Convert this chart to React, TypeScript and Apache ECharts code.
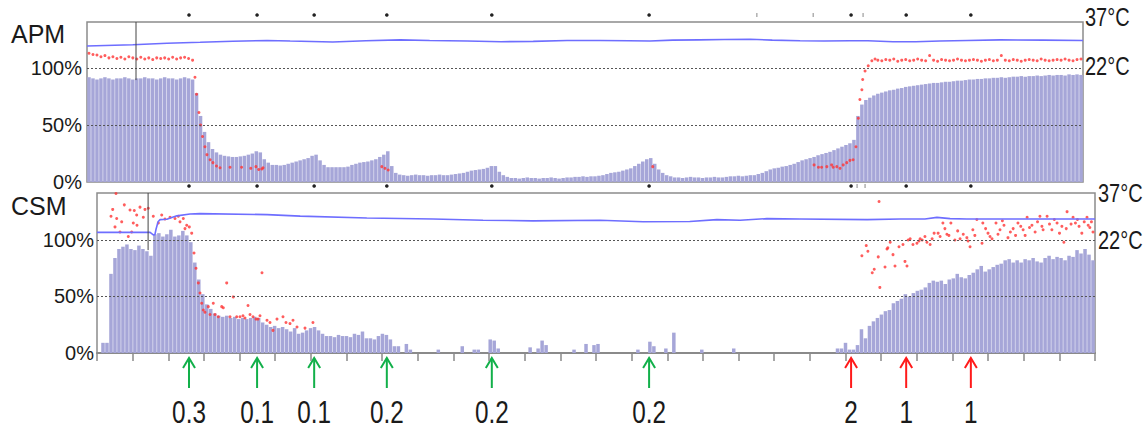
import React, { useEffect, useRef } from "react";
import * as echarts from "echarts";

// ---------- DATA ----------
const N_SAMPLES = 250;
const APM_MAX = 140.5; // % at top of APM plot
const CSM_MAX = 141.5; // % at top of CSM plot
const TEMP_LOW = 22;
const TEMP_HIGH = 37;

// APM: bar heights (% of max) per sample
const apmBars = [
  92, 91, 90, 91, 92, 91, 90, 91, 91, 92, 91, 90, 91, 91, 92, 91, 91, 90, 91, 92, 91, 91, 90, 91, 92, 91, 90,
  78, 58, 44, 35, 29, 26, 24, 23, 22.5, 22, 22, 22.5, 23, 24, 25, 27, 26, 20, 17, 15, 15, 14.5, 15,
  16, 17, 18, 19, 20, 21, 23, 24, 19, 15, 13, 13, 13, 13, 13, 13.5, 15, 16, 17, 17.5, 18, 19, 20, 22, 24, 27, 14, 8, 6.5,
  6, 5.5, 6, 6.5, 6, 6, 5.5, 6, 6, 6.5, 6,
  6, 6.5, 7, 7.5, 8,
  9, 10, 10.5, 11, 11.5, 12.5, 14, 14, 9, 6,
  4.5,
  3.5, 3.5, 3, 3.5, 4, 3.5, 3.5, 3, 3.5, 3.5, 4, 3.5, 3, 3.5, 4, 4,
  4.5, 4.5, 5, 4.5, 5, 5, 5.5,
  6, 7, 8, 8.5, 9, 10, 11, 12, 14, 16, 18, 20, 21, 16, 11, 8, 6, 5,
  4, 4, 3.5, 4, 4.5, 4, 4, 3.5, 4, 4, 4.5, 4, 4, 4.5,
  5, 5, 5.5, 5, 5.5, 6, 6,
  7, 8, 9.5, 11, 12, 12.5, 13.5, 14, 15, 16, 17.5, 19, 20, 21, 22, 23.5, 24.5, 25.5, 26.5, 28, 29.5, 31, 32.5, 34, 37,
  58, 68, 72, 74, 76, 77.5, 78.5, 79.5, 80.5, 81, 82, 82.5, 83.5, 84, 84.5, 85, 85.5, 86, 86.5, 87,
  87, 87.5, 88, 88, 88.5, 89, 89, 89.5, 90, 90, 90.5, 90.5, 91, 91, 91.5, 91.5, 92, 91.5, 92, 92.5,
  92.5, 93, 92.5, 93, 93, 93.5, 93, 93.5, 94, 93.5, 94, 94, 93.5, 94.5, 94, 94.5, 94,
];

// CSM: bar heights per sample
const csmBars = [
  0, 9, 9, 70, 84, 92, 94, 96, 92, 91, 95, 92, 90, 86, 105, 106, 103, 105, 109, 103, 104, 108, 104, 98,
  80, 65, 52, 43, 39, 35, 33, 32, 33, 31, 32, 30, 31, 30, 31, 32, 31, 27, 25, 23, 24, 22, 23, 21, 19, 22, 17,
  18, 20, 22, 23, 20, 17, 15, 15, 14, 16, 15, 15, 14, 17, 16, 19, 13, 13, 12, 15, 17, 16, 12, 6, 6, 0, 8, 3,
  0, 0, 0, 0, 0, 0, 3, 0, 0, 0, 0, 0, 6, 0, 0, 3, 3, 0, 0, 12, 11,
  4, 0, 0, 0, 0, 0, 0, 0, 5, 0, 4, 11, 7, 0, 0, 0, 0, 0, 0, 3,
  0, 0, 8, 0, 7, 8, 0, 0, 0, 0, 0, 0, 0, 0, 0, 3, 0, 0, 10, 6,
  0, 0, 4, 0, 18, 0, 0, 0, 0, 0, 0, 3, 0, 0, 0, 0, 0, 0, 0, 4,
  0, 0, 0, 0, 0, 0, 0, 0, 0, 0, 0, 0, 0, 0, 0, 0, 0, 0, 0, 0, 0, 0, 0, 0,
  0, 4, 4, 9, 3, 3, 7, 21, 13, 24, 28, 31, 34, 37, 38, 44, 46, 48, 52, 50,
  53, 55, 56, 58, 62, 64, 63, 64, 61, 65, 66, 70, 67, 66, 69, 71, 74, 77, 72, 74,
  76, 78, 79, 82, 83, 80, 82, 80, 83, 82, 84, 81, 80, 84, 86, 83, 85, 84, 82, 86,
  85, 91, 88, 92, 87, 82,
];

// APM red ratio points: regular run at the start, scattered middle, regular run at the end
const apmRatioHead = [
  113, 112, 111.5, 110, 111, 109, 110, 108.5, 109.5, 108, 110, 109, 108, 109.5, 108, 109, 107.5, 109, 108.5,
  109, 108, 109.5, 108, 109, 109.5, 108.5, 107,
];
const apmRatioMid: [number, number][] = [
  [27.1, 92], [27.5, 77], [28.1, 61], [28.5, 50], [29.0, 40], [29.6, 31], [30.1, 24], [30.9, 19.5],
  [31.6, 17], [32.5, 14], [33.4, 12.5], [35.9, 13], [38.8, 13], [41.1, 12], [42.4, 13.5], [43.1, 11],
  [43.9, 11.5], [44.2, 12.5], [74.0, 13.5], [74.8, 12], [75.6, 10.5], [142.0, 13.5],
  [182.5, 15], [183.6, 13], [184.4, 13], [185.7, 13.5], [186.9, 15], [187.3, 13], [188.2, 13.5],
  [189.0, 12], [189.8, 15], [190.7, 17], [191.5, 19], [192.3, 19.5], [193.0, 31], [193.6, 56],
  [194.0, 72.5], [194.5, 81], [194.7, 90], [195.3, 97.5], [196.1, 102], [197.0, 106.5], [197.8, 108],
];
const APM_TAIL_START = 198;
const apmRatioTail = [
  107, 106.5, 107.5, 107, 108, 106, 107, 107.5, 106.5, 107,
  108, 107, 106.5, 111, 107, 106, 107.5, 107, 106.5, 107,
  108, 107, 106.5, 107, 107.5, 107, 106, 107, 107.5, 106.5,
  107, 111, 107, 106.5, 107.5, 107, 106, 107, 107.5, 107,
  106.5, 108, 107, 106.5, 107, 107.5, 107, 108, 107, 106.5,
  107.5, 108,
];

// CSM red ratio points [sample position, %]
const csmRatio: [number, number][] = [
  [3.51, 121], [3.93, 127], [4.51, 111.5], [4.76, 141], [4.93, 119], [5.76, 107], [6.19, 116], [6.84, 131],
  [7.84, 103], [8.27, 126.5], [8.69, 107], [9.09, 115], [9.34, 126], [9.94, 122], [10.02, 113], [10.77, 129],
  [11.6, 120], [12.02, 127], [12.85, 128], [14.1, 121], [15.36, 115], [16.21, 122], [17.03, 118.5], [18.29, 120],
  [19.54, 119], [20.37, 121], [20.79, 116], [21.62, 119], [22.04, 110], [22.47, 113], [23.12, 111.5], [23.72, 106],
  [24.3, 88.5], [24.8, 75], [25.38, 62], [25.8, 53], [26.23, 44], [26.63, 38], [27.05, 36], [27.88, 41],
  [28.31, 34], [29.13, 44], [29.56, 34], [30.39, 32], [31.24, 41], [31.64, 40], [32.49, 62], [33.32, 32],
  [34.14, 49.6], [35.0, 32], [35.82, 32], [36.57, 33], [37.07, 31], [37.83, 42], [38.33, 34], [39.08, 32],
  [39.83, 30], [40.33, 30], [40.83, 33], [41.33, 71], [42.59, 29], [43.34, 27], [44.09, 20], [45.09, 30],
  [46.59, 32], [47.34, 27], [48.35, 26], [49.1, 29], [50.1, 23], [52.1, 22], [54.1, 27],
  [191.6, 86], [192.7, 95], [193.1, 90], [194.2, 71], [194.7, 74], [195.7, 85], [195.9, 134], [196.1, 58],
  [197.4, 76], [197.9, 92], [198.1, 93], [198.7, 98], [199.4, 87], [199.9, 77], [200.9, 94], [201.9, 96],
  [202.4, 81], [202.9, 77], [203.2, 100], [203.7, 101], [204.4, 96], [205.4, 97], [205.9, 99], [206.2, 101],
  [206.7, 100], [207.4, 103], [207.9, 98], [208.7, 96], [209.2, 101], [209.7, 106], [210.7, 106], [211.2, 103],
  [211.9, 115], [212.4, 110], [212.9, 105], [213.4, 104], [213.9, 115], [214.9, 100], [215.6, 108], [216.2, 101],
  [217.0, 105], [217.9, 102], [218.2, 99], [218.7, 94], [219.4, 109], [219.9, 104], [220.4, 118], [221.7, 97],
  [221.9, 115], [222.6, 110], [223.2, 106], [223.7, 103], [224.2, 101], [225.2, 115], [225.7, 105], [226.2, 109],
  [226.8, 117], [227.2, 113], [228.2, 102], [228.8, 107], [229.5, 110], [230.1, 104], [230.7, 115], [231.4, 112],
  [232.0, 109], [232.5, 104], [233.0, 120], [233.6, 111], [234.2, 113], [235.0, 107], [235.6, 116], [236.2, 121],
  [236.7, 112], [237.0, 109], [238.0, 121], [238.6, 114], [239.2, 109], [239.8, 118], [240.5, 115], [241.1, 106],
  [241.7, 112], [242.2, 98], [242.8, 110], [243.0, 125], [244.0, 114], [244.5, 120], [245.1, 115], [245.6, 118],
  [246.0, 112], [246.7, 106], [247.3, 116], [248.0, 120], [248.3, 113], [248.7, 111], [249.1, 116], [249.5, 107],
];

// Temperature (°C) traces [sample position, °C]
const apmTemp: [number, number][] = [
  [0, 29.2], [11.5, 29.6], [20.1, 30.1], [28.4, 30.4], [36.6, 30.75], [45.2, 31.0], [51, 30.8], [61.7, 30.5],
  [70, 30.9], [78.6, 31.2], [86, 31.0], [95.4, 30.8], [104, 30.6], [112, 30.7], [120.5, 31.0], [128.8, 31.0],
  [136, 30.9], [141.3, 30.8], [147, 31.1], [153.6, 31.2], [160, 31.3], [166.4, 31.4], [172, 31.1], [179, 30.9],
  [185, 30.8], [191.5, 30.9], [196, 30.9], [202.3, 30.6], [208, 30.6], [214.1, 30.8], [221, 31.0], [229.2, 31.2],
  [240, 31.1], [250, 31.0],
];
const csmTemp: [number, number][] = [
  [0, 24.4], [13.3, 24.4], [14.1, 23.6], [14.5, 23.7], [14.8, 25.5], [15.3, 27.8], [15.8, 28.5], [17.5, 28.6],
  [20, 29.7], [23.3, 30.3], [25.8, 30.4], [42.6, 30.1], [50.9, 29.6], [67.6, 29.0], [84.2, 28.7], [96.7, 28.3],
  [109.2, 28.1], [126, 28.3], [136.8, 27.8], [148.5, 27.9], [155.3, 28.5], [161.1, 28.3], [167.8, 28.8], [176.1, 28.7],
  [192.9, 28.5], [201.2, 28.7], [207.4, 28.7], [210.4, 29.2], [213.7, 28.8], [217.9, 28.7], [234.5, 28.7], [250, 28.7],
];

// Cursor lines [sample position, bottom %]
const apmCursor = [12.3, 89.5];
const csmCursor = [12.8, 91];

// Treatment events (sample positions on the CSM axis) and doses
const eventPos = [23.05, 40.1, 54.4, 72.6, 98.9, 138.3, 188.9, 202.7, 218.9];
const eventDose = [0.3, 0.1, 0.1, 0.2, 0.2, 0.2, 2, 1, 1];
const minorMarksTop = [165.3, 179.4, 191.9];
const minorMarksBottom = [190.4, 192.4];

const pctTicks = [0, 50, 100];
const tempTicks = [TEMP_LOW, TEMP_HIGH];
const axisTickCount = 28; // tick intervals along the bottom axis

// ---------- STYLE ----------
const FONT = "'Liberation Sans', Arial, sans-serif";
const BAR = "#a6a6d8";
const RED = "#ff3535";
const BLUE = "#6e6eff";
const GREEN = "#12b04a";
const ARROW_RED = "#ff1a1a";
const BORDER = "#8c8c8c";

function tempAxis(gridIndex: number, pmax: number) {
  const k = (TEMP_HIGH - TEMP_LOW) / (pmax - 100);
  return {
    type: "value",
    gridIndex,
    position: "right",
    min: TEMP_LOW - 100 * k,
    max: TEMP_HIGH,
    show: false,
  };
}

function pctAxis(gridIndex: number, pmax: number, margin: number) {
  return {
    type: "value",
    gridIndex,
    min: 0,
    max: pmax,
    interval: 50,
    axisLine: { show: false },
    axisTick: { show: false },
    splitLine: { show: false },
    axisLabel: {
      fontSize: 20,
      fontFamily: FONT,
      color: "#1a1a1a",
      margin,
      formatter: (v: number) => (pctTicks.includes(v) ? `${v}%` : ""),
    },
  };
}

const gridMarkLine = {
  silent: true,
  symbol: "none",
  label: { show: false },
  lineStyle: { color: "#555", type: [2, 2], width: 1 },
  data: [{ yAxis: 50 }, { yAxis: 100 }],
};

function panelSeries(
  xi: number,
  yi: number,
  ti: number,
  bars: number[],
  ratio: number[][],
  temp: number[][],
  cursor: number[],
  pmax: number
) {
  return [
    {
      type: "bar",
      xAxisIndex: xi,
      yAxisIndex: yi,
      data: bars.map((v, i) => [i + 0.5, v]),
      barWidth: 3.5,
      itemStyle: { color: BAR },
      markLine: gridMarkLine,
      z: 2,
    },
    {
      type: "scatter",
      xAxisIndex: xi,
      yAxisIndex: yi,
      data: ratio,
      symbol: "circle",
      symbolSize: 3,
      itemStyle: { color: RED },
      z: 4,
    },
    {
      type: "line",
      xAxisIndex: xi,
      yAxisIndex: ti,
      data: temp,
      symbol: "none",
      lineStyle: { color: BLUE, width: 1.6 },
      z: 5,
    },
    {
      type: "line",
      xAxisIndex: xi,
      yAxisIndex: yi,
      data: [
        [cursor[0], pmax],
        [cursor[0], cursor[1]],
      ],
      symbol: "none",
      lineStyle: { color: "#444", width: 1 },
      z: 6,
    },
  ];
}

export default function App() {
  const ref = useRef<HTMLDivElement>(null);

  useEffect(() => {
    if (!ref.current) return;
    const chart = echarts.init(ref.current, null, { renderer: "svg" });

    const apmRatio = [
      ...apmRatioHead.map((v, i) => [i + 0.5, v]),
      ...apmRatioMid,
      ...apmRatioTail.map((v, j) => [APM_TAIL_START + j + 0.5, v]),
    ];

    const option: any = {
      animation: false,
      backgroundColor: "#ffffff",
      grid: [
        { left: 87, top: 22, width: 996, height: 160, show: true, borderColor: BORDER, borderWidth: 1.5 },
        { left: 97, top: 193, width: 998, height: 160, show: true, borderColor: BORDER, borderWidth: 1.5 },
      ],
      xAxis: [
        { type: "value", gridIndex: 0, min: 0, max: N_SAMPLES, show: false },
        { type: "value", gridIndex: 1, min: 0, max: N_SAMPLES, show: false },
        {
          type: "value",
          gridIndex: 1,
          min: 0,
          max: axisTickCount * 10,
          interval: 10,
          position: "bottom",
          axisLine: { show: true, onZero: false, lineStyle: { color: "#8a8a8a", width: 2 } },
          axisTick: { show: true, length: 8, lineStyle: { color: "#8a8a8a", width: 1.5 } },
          axisLabel: { show: false },
          splitLine: { show: false },
        },
      ],
      yAxis: [
        pctAxis(0, APM_MAX, 5),
        tempAxis(0, APM_MAX),
        pctAxis(1, CSM_MAX, 3),
        tempAxis(1, CSM_MAX),
      ],
      series: [
        ...panelSeries(0, 0, 1, apmBars, apmRatio, apmTemp, apmCursor, APM_MAX),
        ...panelSeries(1, 2, 3, csmBars, csmRatio, csmTemp, csmCursor, CSM_MAX),
      ],
    };
    chart.setOption(option);

    const px = (u: number) => chart.convertToPixel({ xAxisIndex: 1 }, u) as number;
    const ty = (axis: number, t: number) => chart.convertToPixel({ yAxisIndex: axis }, t) as number;

    const g: any[] = [];
    g.push({
      type: "text",
      x: 11,
      y: 34,
      style: { text: "APM", fontSize: 25, fontFamily: FONT, fill: "#1a1a1a", textVerticalAlign: "middle" },
    });
    g.push({
      type: "text",
      x: 11,
      y: 206,
      style: { text: "CSM", fontSize: 25, fontFamily: FONT, fill: "#1a1a1a", textVerticalAlign: "middle" },
    });

    // right temperature labels
    const rightLabel = (x: number, y: number, t: number) => ({
      type: "text",
      x,
      y,
      scaleX: 0.8,
      style: {
        text: `${t}°C`,
        fontSize: 25,
        fontFamily: FONT,
        fill: "#1a1a1a",
        textVerticalAlign: "middle",
      },
    });
    tempTicks.forEach((t) => {
      g.push(rightLabel(1085, ty(1, t) - (t === TEMP_HIGH ? 4 : 1), t));
      g.push(rightLabel(1098, ty(3, t) + 1, t));
    });

    // event dots and arrows
    eventPos.forEach((u, k) => {
      const x = px(u);
      const col = eventDose[k] >= 1 ? ARROW_RED : GREEN;
      g.push({ type: "circle", shape: { cx: x, cy: 15, r: 1.8 }, style: { fill: "#222" } });
      g.push({ type: "circle", shape: { cx: x, cy: 186, r: 1.8 }, style: { fill: "#222" } });
      g.push({
        type: "line",
        shape: { x1: x, y1: 358, x2: x, y2: 388 },
        style: { stroke: col, lineWidth: 2 },
      });
      g.push({
        type: "polyline",
        shape: { points: [[x - 6, 368], [x, 358], [x + 6, 368]] },
        style: { stroke: col, lineWidth: 2, fill: "none" },
      });
      g.push({
        type: "text",
        x,
        y: 412,
        scaleX: 0.76,
        style: {
          text: String(eventDose[k]),
          fontSize: 32,
          fontFamily: FONT,
          fill: "#1a1a1a",
          textAlign: "center",
          textVerticalAlign: "middle",
        },
      });
    });
    minorMarksTop.forEach((u) => {
      const x = px(u);
      g.push({ type: "line", shape: { x1: x, y1: 13, x2: x, y2: 17 }, style: { stroke: "#888", lineWidth: 1 } });
    });
    minorMarksBottom.forEach((u) => {
      const x = px(u);
      g.push({ type: "line", shape: { x1: x, y1: 184, x2: x, y2: 188 }, style: { stroke: "#888", lineWidth: 1 } });
    });

    chart.setOption({ graphic: g });

    return () => chart.dispose();
  }, []);

  return (
    <div
      ref={ref}
      style={{ position: "fixed", left: 0, top: 0, width: 1148, height: 431, background: "#fff" }}
    />
  );
}
